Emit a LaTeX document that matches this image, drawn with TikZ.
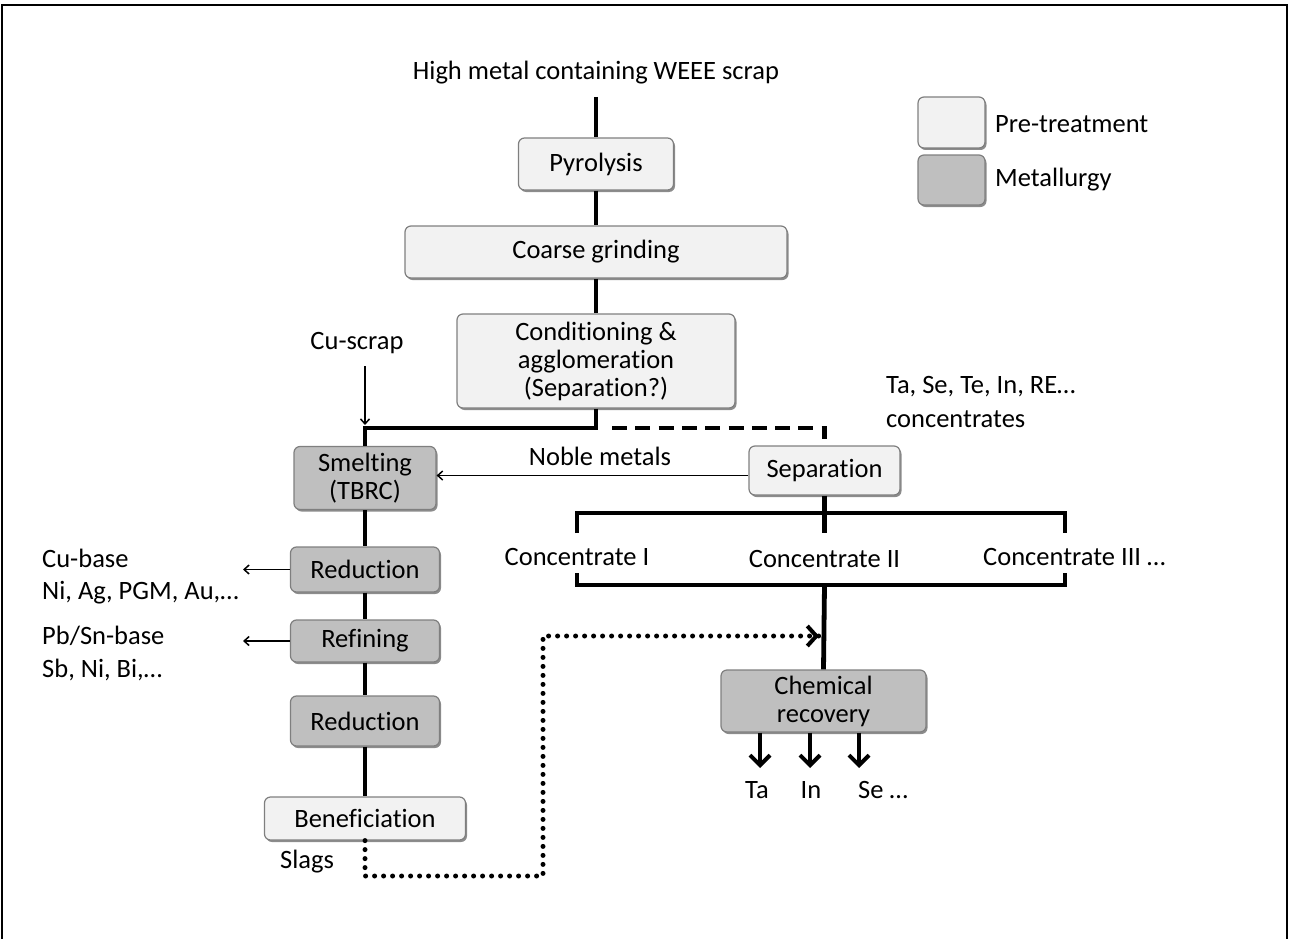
\documentclass[tikz,border=0pt]{standalone}
\usepackage{fontspec}
\setmainfont[Ligatures=NoCommon,RawFeature=-liga]{Carlito}
\usetikzlibrary{arrows.meta,shadows}
\definecolor{prec}{HTML}{F2F2F2}
\definecolor{metc}{HTML}{BFBFBF}
\definecolor{bord}{HTML}{7F7F7F}
\begin{document}
\begin{tikzpicture}[x=1pt,y=-1pt,
  every node/.style={font=\fontsize{26.5}{28}\selectfont, inner sep=0pt},
  box/.style={draw=bord, line width=1.2pt, rounded corners=6pt, align=center,
    drop shadow={shadow xshift=1.5pt, shadow yshift=-2pt, opacity=0.45, fill=black}},
  prebox/.style={box, fill=prec},
  metbox/.style={box, fill=metc},
  mainln/.style={line width=4.8pt},
  thinarr/.style={line width=1.5pt, -{Straight Barb[length=5pt,width=9pt,line width=1.5pt]}},
  dashln/.style={line width=4.8pt, dash pattern=on 15pt off 8.3pt},
  dotln/.style={line width=5pt, line cap=round, dash pattern=on 0pt off 9pt},
  bigarr/.style={line width=4.5pt, -{Straight Barb[length=10pt,width=20pt,line width=4pt]}}
]
\useasboundingbox (0,0) rectangle (1290,939);
% frame
\draw[line width=2pt] (2,939) -- (2,5) -- (1287,5) -- (1287,939);

% legend
\node[prebox, minimum width=67pt, minimum height=51pt] (lpre) at (951.5,122.5) {};
\node[metbox, minimum width=67pt, minimum height=50pt] (lmet) at (951.5,180) {};
\node[anchor=west] (tpre) at (995,124) {Pre-treatment};
\node[anchor=west] (tmet) at (995,180) {Metallurgy};

% main column
\node (title) at (596,73) {High metal containing WEEE scrap};
\coordinate (top) at (596,97);
\node[prebox, minimum width=155pt, minimum height=52pt] (pyro) at (596,164) {Pyrolysis};
\node[prebox, minimum width=382pt, minimum height=52pt] (coarse) at (596,252) {Coarse grinding};
\node[prebox, minimum width=278pt, minimum height=94pt] (cond) at (596,361) {Conditioning \&\\agglomeration\\(Separation?)};

\draw[mainln] (top) -- (pyro);
\draw[mainln] (pyro) -- (coarse);
\draw[mainln] (coarse) -- (cond);

% left column
\node[metbox, minimum width=142pt, minimum height=63pt] (smelt) at (365,478) {Smelting\\(TBRC)};
\node[metbox, minimum width=149pt, minimum height=45pt] (red1) at (365,569.5) {Reduction};
\node[metbox, minimum width=149pt, minimum height=42pt] (refin) at (365,641) {Refining};
\node[metbox, minimum width=149pt, minimum height=50pt] (red2) at (365,721) {Reduction};
\node[prebox, minimum width=201pt, minimum height=43pt] (benef) at (365,818.5) {Beneficiation};

\coordinate (j1) at (596,428);
\draw[mainln] (cond.south) -- (j1) -| (smelt.north);
\draw[mainln] (smelt) -- (red1);
\draw[mainln] (red1) -- (refin);
\draw[mainln] (refin) -- (red2);
\draw[mainln] (red2) -- (benef);

\node (cu) at (357,343) {Cu-scrap};
\coordinate (cuA) at (365,366);
\coordinate (cuB) at (365,425);
\draw[thinarr] (cuA) -- (cuB);

% left outputs
\coordinate (lx) at (243,0);
\draw[thinarr] (red1.west) -- (red1.west -| lx);
\draw[thinarr] (refin.west) -- (refin.west -| lx);
\node[anchor=west] (o1) at (42,558) {Cu-base};
\node[anchor=west] (o2) at (42,593) {Ni, Ag, PGM, Au,…};
\node[anchor=west] (o3) at (42,636) {Pb/Sn-base};
\node[anchor=west] (o4) at (42,670) {Sb, Ni, Bi,…};

% separation branch
\node[prebox, minimum width=151pt, minimum height=49pt] (sep) at (824.5,470.5) {Separation};
\coordinate (d1) at (612,428);
\draw[dashln] (d1) -| ([yshift=6pt]sep.north);
\node (noble) at (600,456) {Noble metals};
\draw[thinarr] ([yshift=-5pt]sep.west) -- ([yshift=-5pt]sep.west -| smelt.east);

\node[anchor=west] (conc1) at (886,387) {Ta, Se, Te, In, RE…};
\node[anchor=west] (conc2) at (886,419) {concentrates};

\coordinate (b0) at (824.5,513);
\coordinate (bL) at (577,513);
\coordinate (bR) at (1065,513);
\coordinate (bLd) at (577,533);
\coordinate (bRd) at (1065,533);
\coordinate (bMd) at (824.5,533);
\draw[mainln] (sep.south) -- (b0);
\draw[mainln, line join=miter] (bLd) -- (bL) -- (bR) -- (bRd);
\draw[mainln] (b0) -- (bMd);

\node (c1) at (577,557) {Concentrate I};
\node (c2) at (824.5,559) {Concentrate II};
\node[anchor=west] (c3) at (983,557) {Concentrate III …};

\coordinate (lLu) at (577,573);
\coordinate (lRu) at (1065,573);
\coordinate (lL) at (577,585);
\coordinate (lR) at (1065,585);
\coordinate (lM) at (824.5,585);
\draw[mainln, line join=miter] (lLu) -- (lL) -- (lR) -- (lRu);

\node[metbox, minimum width=205pt, minimum height=62pt] (chem) at (823.5,701) {Chemical\\recovery};
\draw[mainln] (lM) -- (chem.north);

% outputs of chemical recovery
\coordinate (e1) at (760,768);
\coordinate (e2) at (810,768);
\coordinate (e3) at (859,768);
\draw[bigarr] (chem.south -| e1) -- (e1);
\draw[bigarr] (chem.south -| e2) -- (e2);
\draw[bigarr] (chem.south -| e3) -- (e3);
\node (ta) at (757,790) {Ta};
\node (in) at (811,790) {In};
\node[anchor=west] (se) at (858,790) {Se …};

% slag loop
\node (slags) at (307,862) {Slags};
\coordinate (s1) at (365,876);
\coordinate (s2) at (543,876);
\coordinate (s3) at (543,636);
\coordinate (s4) at (819,636);
\draw[dotln] (benef.south) -- (s1) -- (s2) -- (s3) -- (s4);
\draw[line width=4pt, -{Straight Barb[length=9pt,width=20pt,line width=4pt]}] ([xshift=-3pt]s4) -- (s4);
\end{tikzpicture}
\end{document}
